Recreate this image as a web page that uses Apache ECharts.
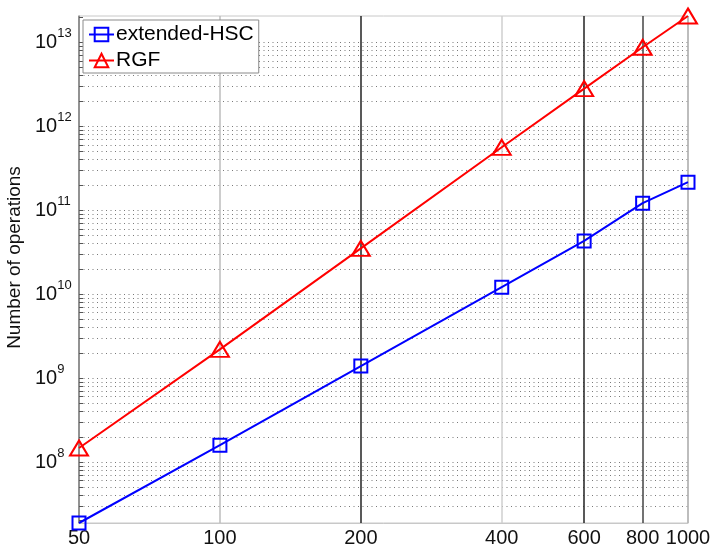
<!DOCTYPE html>
<html>
<head>
<meta charset="utf-8">
<script src="https://cdn.jsdelivr.net/npm/echarts@6/dist/echarts.min.js"></script>
<style>
  html, body { margin: 0; padding: 0; background: #fff; }
  #chart { width: 711px; height: 550px; }
</style>
</head>
<body>
<div id="chart"></div>
<script>
// problem sizes (x axis, log scale)
const sizes = [50, 100, 200, 400, 600, 800, 1000]
// number of operations
const hscOps = [1.88e7, 1.59e8, 1.39e9, 1.21e10, 4.3e10, 1.21e11, 2.15e11]
const rgfOps = [1.47e8, 2.2e9, 3.5e10, 5.6e11, 2.8e12, 8.7e12, 2.05e13]
// tick labels
const xTicks = [50, 100, 200, 400, 600, 800, 1000]
const yDecades = [1e7, 1e8, 1e9, 1e10, 1e11, 1e12, 1e13]
const yMinorSteps = [1, 2, 3, 4, 5, 6, 7, 8, 9]

// minor grid values 1..9 x 10^n
const yGrid = []
yDecades.forEach(d => yMinorSteps.forEach(m => yGrid.push(m * d)))
const yLabels = yDecades.slice(1)

const chart = echarts.init(document.getElementById('chart'))
const font = 'Liberation Sans, Arial, sans-serif'

chart.setOption({
  animation: false,
  backgroundColor: '#fff',
  grid: {
    left: 79, right: 23, top: 16, bottom: 27,
    outerBoundsMode: 'none',
    show: true, borderColor: '#c8c8c8', borderWidth: 1
  },
  legend: {
    orient: 'vertical',
    left: 83, top: 20,
    backgroundColor: '#fff',
    borderColor: '#8a8a8a', borderWidth: 1,
    padding: [4, 5, 2, 5],
    itemGap: 5,
    itemWidth: 25, itemHeight: 17,
    textStyle: { fontFamily: font, fontSize: 21, color: '#000', padding: [0, 0, 0, -3] },
    data: ['extended-HSC', 'RGF']
  },
  xAxis: {
    type: 'log',
    logBase: 10,
    min: 'dataMin',
    // nudge so the 1000 tick is not dropped by rounding
    max: v => v.max * (1 + 1e-9),
    axisLine: { show: true, lineStyle: { color: '#c8c8c8' } },
    axisTick: { show: false, customValues: xTicks },
    axisLabel: {
      customValues: xTicks,
      showMaxLabel: true,
      hideOverlap: false,
      fontFamily: font, fontSize: 20, color: '#111', margin: 5,
      formatter: v => String(Math.round(v))
    },
    splitLine: {
      show: true,
      showMinLine: true,
      showMaxLine: true,
      lineStyle: {
        color: ['#999', '#bdbdbd', '#222', '#cfcfcf', '#222', '#444', '#b0b0b0'],
        width: 1.5
      }
    }
  },
  yAxis: {
    type: 'log',
    logBase: 10,
    min: 'dataMin',
    max: 'dataMax',
    name: 'Number of operations',
    nameLocation: 'middle',
    nameGap: 47,
    nameTextStyle: { fontFamily: font, fontSize: 19, color: '#111', padding: [0, 0, 0, 24] },
    axisLine: { show: true, lineStyle: { color: '#8a8a8a', width: 1.5 } },
    axisTick: {
      show: true, inside: true, length: 4,
      customValues: yGrid,
      lineStyle: { color: '#555' }
    },
    axisLabel: {
      customValues: yLabels,
      margin: 44,
      align: 'left',
      fontFamily: font, fontSize: 20, color: '#111', lineHeight: 30,
      formatter: v => '10{s|' + Math.round(Math.log10(v)) + '}',
      rich: {
        s: { fontFamily: font, fontSize: 13, lineHeight: 12, verticalAlign: 'top', color: '#111' }
      }
    },
    splitLine: {
      show: true,
      showMinLine: false,
      showMaxLine: false,
      lineStyle: { color: '#7a7a7a', width: 1, type: [1, 3.5] }
    }
  },
  series: [
    {
      name: 'extended-HSC',
      type: 'line',
      data: sizes.map((s, i) => [s, hscOps[i]]),
      symbol: 'rect',
      symbolSize: 13,
      color: '#0000ff',
      lineStyle: { color: '#0000ff', width: 2 },
      itemStyle: { color: 'rgba(255,255,255,0)', borderColor: '#0000ff', borderWidth: 2 },
      z: 3
    },
    {
      name: 'RGF',
      type: 'line',
      data: sizes.map((s, i) => [s, rgfOps[i]]),
      symbol: 'triangle',
      symbolSize: [18, 15],
      color: '#ff0000',
      lineStyle: { color: '#ff0000', width: 2 },
      itemStyle: { color: 'rgba(255,255,255,0)', borderColor: '#ff0000', borderWidth: 2 },
      z: 3
    }
  ]
})
</script>
</body>
</html>
